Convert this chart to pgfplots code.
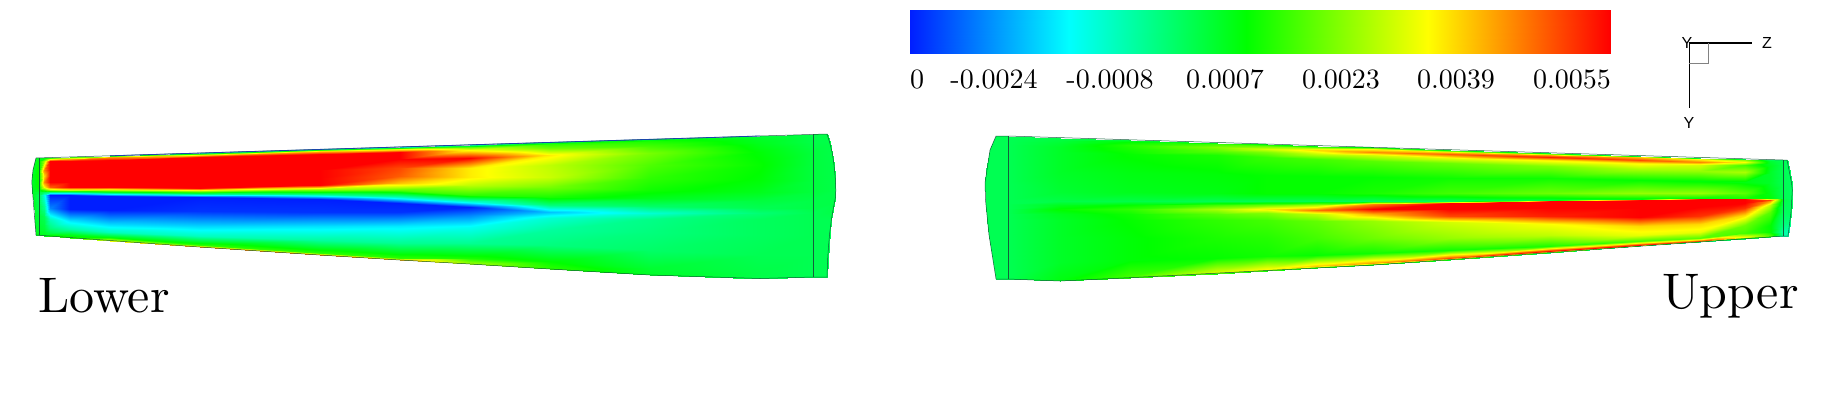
\documentclass[border=0pt]{standalone}
\usepackage{fontspec}
\usepackage{pgfplots}
\pgfplotsset{compat=1.18}
\newfontfamily\triadfont{Liberation Sans}
\newfontfamily\labelfont{lmroman10-regular.otf}
\definecolor{edgeline}{RGB}{20,95,60}
\definecolor{edgeblue}{RGB}{25,70,170}
\definecolor{triadgrey}{RGB}{130,130,130}
\pgfplotsset{
  colormap={cfdrainbow}{rgb255(0pt)=(0,30,255) rgb255(23pt)=(0,255,255) rgb255(48pt)=(0,255,0) rgb255(74pt)=(255,255,0) rgb255(100pt)=(255,0,0)},
}
\begin{document}
\begin{tikzpicture}
\useasboundingbox (0,0) rectangle (911.5pt,209pt);
\begin{axis}[
  at={(0,0)}, anchor=south west,
  scale only axis, width=911.5pt, height=209pt,
  xmin=0, xmax=1823, ymin=0, ymax=418, y dir=reverse,
  hide axis, clip=false,
  colormap name=cfdrainbow,
  point meta min=-0.004, point meta max=0.0055,
]
% colour bar
\addplot[surf, shader=interp, mesh/rows=5, mesh/cols=2, point meta=\thisrow{v}] table {
x y v
910 10.5 -0.0040
910 53.5 -0.0040
1070 10.5 -0.0018
1070 53.5 -0.0018
1247 10.5 0.00057
1247 53.5 0.00057
1427 10.5 0.00302
1427 53.5 0.00302
1610 10.5 0.0055
1610 53.5 0.0055
};
% lower surface
\addplot[surf, shader=interp, mesh/rows=15, mesh/cols=15, point meta=\thisrow{v}] table {
x y v
36 158 0.0003
35.5 159.5 0.0003
35 161 0.0003
33 170 0.0002
32 176 0.0002
31.8 182 0.0002
32 187 0.0002
32.2 190 0.0002
32.4 192 0.0002
32.6 195 0.0002
33.6 205 0.0002
34.6 215 0.0002
35.3 225 0.0002
35.7 231 0.0003
36 235 0.0004
39 158 0.0003
39 159.5 0.0004
39 161 0.0005
39 170 0.0007
39 176 0.0007
39 182 0.0007
39 187 0.0006
39 190 0.0003
39 192 0.0000
39 195 -0.0003
39 205 -0.0002
39 215 0.0000
39 225 0.0001
39 231 0.0002
39 235.3 0.0004
44 157.8 0.0004
44 159 0.0008
44 161 0.0020
44 170 0.0042
44 176 0.0034
44 182 0.0042
44 187 0.0030
44 190 0.0010
44 192 -0.0003
44 195 -0.0015
44 207 -0.0008
44 217 -0.0002
44 227 0.0000
44 232 0.0002
44 235.7 0.0004
50 157.6 0.0010
50 159 0.0030
50 160.5 0.0055
50 170 0.0055
50 176 0.0055
50 182 0.0055
50 187 0.0046
50 190 0.0020
50 192 -0.0006
50 195 -0.0040
50 208 -0.0030
50 219 -0.0012
50 228 -0.0006
50 233 0.0000
50 236 0.0008
70 157 0.0012
70 158.5 0.0040
70 161 0.0055
70 170 0.0055
70 176 0.0055
70 182 0.0055
70 187 0.0055
70 189.5 0.0025
70 192 -0.0006
70 195 -0.0040
70 209 -0.0040
70 221 -0.0020
70 229 -0.0010
70 234 0.0002
70 237.5 0.0010
110 155.8 0.0008
110 157.3 0.0040
110 160 0.0055
110 169 0.0055
110 176 0.0055
110 182 0.0055
110 187 0.0055
110 190 0.0022
110 193 -0.0008
110 196 -0.0040
110 210 -0.0040
110 224 -0.0022
110 232 -0.0012
110 237 0.0004
110 240.5 0.0030
200 153 -0.0010
200 154.7 0.0034
200 157 0.0055
200 166 0.0055
200 174 0.0055
200 182 0.0055
200 188 0.0055
200 191 0.0020
200 193.5 -0.0008
200 197 -0.0040
200 211 -0.0038
200 226 -0.0022
200 236 -0.0012
200 245 0.0010
200 247 0.0044
320 149.4 -0.0015
320 151 0.0034
320 154 0.0055
320 162 0.0055
320 170 0.0055
320 178 0.0055
320 185 0.0055
320 189 0.0022
320 194 -0.0006
320 199 -0.0040
320 212 -0.0038
320 226 -0.0021
320 240 -0.0009
320 252.5 0.0010
320 255 0.0046
400 147 -0.0015
400 148.7 0.0028
400 151.5 0.0055
400 159 0.0055
400 168 0.0048
400 176 0.0046
400 183 0.0036
400 190 0.0014
400 197 -0.0012
400 203 -0.0040
400 212 -0.0038
400 226 -0.0020
400 243 -0.0008
400 257.5 0.0010
400 260 0.0040
470 144.8 -0.0010
470 146.5 0.0014
470 150 0.0030
470 158 0.0055
470 168 0.0032
470 177 0.0032
470 185 0.0024
470 195 0.0010
470 202 -0.0016
470 207 -0.0040
470 215 -0.0030
470 227 -0.0017
470 243 -0.0008
470 258 0.0008
470 264 0.0022
550 142.4 -0.0006
550 144 0.0010
550 148 0.0016
550 155 0.0032
550 165 0.0024
550 177 0.0025
550 187 0.0017
550 197 0.0008
550 205 -0.0006
550 212 -0.0024
550 218 -0.0014
550 230 -0.0009
550 245 -0.0006
550 262 0.0006
550 269 0.0010
650 139.4 -0.0001
650 141 0.0008
650 146 0.0012
650 153 0.0017
650 165 0.0013
650 178 0.0010
650 190 0.0007
650 198 0.0003
650 206 -0.0004
650 213 -0.0014
650 219 -0.0007
650 232 -0.0006
650 250 -0.0004
650 268 0.0001
650 275 0.0002
760 136 0.0000
760 137.5 0.0002
760 143 0.0003
760 152 0.0005
760 165 0.0006
760 180 0.0005
760 192 0.0003
760 200 0.0000
760 208 -0.0002
760 213 -0.0005
760 219 -0.0003
760 235 -0.0003
760 255 -0.0002
760 272 -0.0001
760 278.5 -0.0001
813 134.4 -0.0001
813 136 -0.0001
813 142 -0.0001
813 152 0.0000
813 165 0.0000
813 180 0.0000
813 192 0.0000
813 200 -0.0001
813 208 -0.0001
813 213 -0.0002
813 219 -0.0002
813 235 -0.0002
813 255 -0.0002
813 272 -0.0002
813 277 -0.0002
827 134 -0.0001
827.8 136 -0.0001
829.5 142 -0.0001
832.3 153 -0.0001
834 165 -0.0001
835.2 177 -0.0001
835.8 190 -0.0001
835.5 197 -0.0001
834.3 203 -0.0001
833 210 -0.0001
831.3 220 -0.0002
829.8 232 -0.0002
828.6 245 -0.0002
827.6 260 -0.0002
827 277 -0.0002
};
% upper surface
\addplot[surf, shader=interp, mesh/rows=16, mesh/cols=16, point meta=\thisrow{v}] table {
x y v
996 136 -0.0002
995 138 -0.0002
993.5 141 -0.0002
992 144 -0.0002
990 150 -0.0002
986 170 -0.0002
985 183 -0.0002
985.5 200 -0.0002
985.7 204 -0.0002
986 209 -0.0002
986.5 214 -0.0002
987 220 -0.0002
989 235 -0.0002
993 260 -0.0002
996 277 -0.0002
996 279 -0.0002
1008 136 -0.0002
1008 138 -0.0002
1008 141 -0.0002
1008 144 -0.0002
1008 150 -0.0002
1008 170 -0.0002
1008 183 -0.0002
1008 200 -0.0002
1008 204 -0.0002
1008 209 -0.0002
1008 214 -0.0002
1008 220 -0.0002
1008 235 -0.0002
1008 260 -0.0002
1008 277 -0.0002
1008 279 -0.0002
1060 137.6 -0.0001
1060 139.5 0.0000
1060 143 0.0001
1060 147 0.0002
1060 152 0.0002
1060 172 0.0002
1060 192 0.0001
1060 201 -0.0001
1060 205 0.0003
1060 209 0.0006
1060 214 0.0003
1060 220 0.0002
1060 237 0.0002
1060 262 0.0002
1060 279 0.0004
1060 281 0.0002
1130 139.8 0.0001
1130 141.7 0.0006
1130 145 0.0009
1130 148 0.0008
1130 154 0.0006
1130 173 0.0004
1130 192 0.0003
1130 201 -0.0001
1130 205 0.0006
1130 209 0.0010
1130 214 0.0007
1130 220 0.0006
1130 238 0.0005
1130 260 0.0005
1130 275.7 0.0012
1130 277.7 0.0008
1217 142.5 0.0003
1217 144.4 0.0012
1217 147 0.0018
1217 150.5 0.0014
1217 155 0.0008
1217 174 0.0005
1217 193 0.0004
1217 201 -0.0002
1217 205 0.0012
1217 209 0.0022
1217 214 0.0014
1217 220 0.0010
1217 238 0.0008
1217 258 0.0006
1217 272 0.0026
1217 274 0.0006
1267 144 0.0004
1267 146 0.0016
1267 149 0.0026
1267 152 0.0018
1267 157 0.0011
1267 175 0.0006
1267 193 0.0006
1267 201 -0.0002
1267 205 0.0016
1267 209 0.0032
1267 213 0.0018
1267 220 0.0012
1267 238 0.0009
1267 256 0.0007
1267 268.5 0.0030
1267 270.5 0.0006
1317 145.6 0.0004
1317 147.6 0.0022
1317 150 0.0034
1317 153.5 0.0024
1317 159 0.0012
1317 176 0.0006
1317 193 0.0006
1317 201 -0.0002
1317 204.5 0.0022
1317 209.5 0.0044
1317 214 0.0024
1317 221 0.0015
1317 238 0.0012
1317 255 0.0006
1317 266 0.0036
1317 268 0.0004
1373 147.3 0.0002
1373 149.3 0.0030
1373 152 0.0042
1373 155 0.0026
1373 161 0.0014
1373 177 0.0006
1373 193 0.0008
1373 201 -0.0003
1373 204 0.0042
1373 209 0.0055
1373 214 0.0038
1373 221 0.0020
1373 238 0.0016
1373 253 0.0007
1373 263 0.0040
1373 265 0.0002
1450 149.7 0.0002
1450 151.5 0.0034
1450 154 0.0046
1450 158 0.0028
1450 163 0.0016
1450 178 0.0007
1450 193 0.0012
1450 200.5 -0.0003
1450 202.5 0.0055
1450 209 0.0055
1450 215.5 0.0048
1450 222 0.0026
1450 238 0.0020
1450 250 0.0007
1450 257.5 0.0048
1450 259.6 0.0000
1550 152.8 0.0000
1550 154.5 0.0040
1550 157 0.0052
1550 160 0.0032
1550 166 0.0018
1550 178 0.0007
1550 193 0.0016
1550 199.5 0.0000
1550 201 0.0055
1550 208 0.0055
1550 216 0.0052
1550 224 0.0030
1550 235 0.0024
1550 246 0.0008
1550 250.5 0.0055
1550 252.5 -0.0006
1640 155.6 -0.0002
1640 157 0.0036
1640 159.5 0.0048
1640 163 0.0032
1640 169 0.0022
1640 180 0.0006
1640 193 0.0020
1640 198.5 0.0004
1640 200 0.0055
1640 208 0.0055
1640 217 0.0055
1640 226 0.0034
1640 235 0.0028
1640 241 0.0012
1640 244.5 0.0055
1640 246.2 -0.0010
1700 157.5 -0.0002
1700 159 0.0030
1700 161.5 0.0042
1700 164.5 0.0026
1700 171 0.0020
1700 181 0.0005
1700 193 0.0020
1700 197.5 0.0006
1700 199 0.0055
1700 207 0.0055
1700 216 0.0050
1700 224 0.0034
1700 232 0.0028
1700 238 0.0014
1700 240.5 0.0050
1700 242 -0.0010
1745 158.8 -0.0002
1745 160 0.0020
1745 162 0.0030
1745 165 0.0012
1745 172 0.0022
1745 182 0.0004
1745 193 0.0014
1745 197.5 0.0008
1745 199 0.0055
1745 203 0.0055
1745 208 0.0050
1745 215 0.0034
1745 225 0.0016
1745 233 0.0012
1745 237 0.0030
1745 238.8 -0.0004
1770 159.6 -0.0002
1770 161 0.0001
1770 163 0.0002
1770 166 0.0003
1770 173 0.0002
1770 183 0.0002
1770 193 0.0004
1770 197.5 0.0005
1770 199.5 0.0048
1770 201 0.0040
1770 205 0.0024
1770 212 0.0014
1770 225 0.0006
1770 232 0.0006
1770 235.5 0.0014
1770 237 -0.0002
1783 160 -0.0003
1783 161.5 -0.0002
1783 163.5 -0.0002
1783 166.5 -0.0002
1783 173 -0.0002
1783 183 -0.0002
1783 193 -0.0002
1783 197.5 -0.0002
1783 199.5 -0.0001
1783 201 -0.0001
1783 205 -0.0002
1783 212 -0.0003
1783 225 -0.0006
1783 232 -0.0010
1783 234.5 -0.0010
1783 236 -0.0010
1787 160 -0.0003
1787.5 161.5 -0.0003
1788 163.5 -0.0003
1789 166.5 -0.0003
1790 173 -0.0003
1791.5 183 -0.0003
1792.3 190 -0.0003
1792 197.5 -0.0003
1792 199.5 -0.0003
1791.8 201 -0.0003
1791.5 205 -0.0003
1791 212 -0.0003
1790 222 -0.0006
1789 230 -0.0010
1788.3 234.5 -0.0010
1788 236 -0.0010
};
% outlines
\addplot[edgeline, line width=0.25pt] coordinates {(36,158) (813,134.4) (827,134) (829.5,142) (832.3,153) (834,165) (835.2,177) (835.8,190) (835.5,197) (834.3,203) (833,210) (831.3,220) (829.8,232) (828.6,245) (827.6,260) (827,277) (813,277) (760,278.5) (650,275) (550,269) (470,264) (400,260) (320,255) (200,247) (110,240.5) (36,235) (33.6,205) (31.8,182) (33,170) (36,158)};
\addplot[edgeline, line width=0.25pt] coordinates {(39,158) (39,235.3)};
\addplot[edgeline, line width=0.25pt] coordinates {(813,134.4) (813,277)};
\addplot[edgeblue, line width=0.4pt] coordinates {(110,155.8) (320,149.4) (550,142.4) (760,136)};
\addplot[edgeline, line width=0.25pt] coordinates {(996,136) (1008,136) (1783,160) (1787,160) (1791.5,183) (1792.3,190) (1791,212) (1788,236) (1783,236) (1640,246.2) (1373,265) (1130,277.7) (1060,281) (1008,279) (996,279) (989,235) (985.5,200) (985,183) (990,150) (996,136)};
\addplot[edgeline, line width=0.25pt] coordinates {(1008,136) (1008,279)};
\addplot[edgeline, line width=0.25pt] coordinates {(1783,160) (1783,236)};
% triad
\addplot[black, line width=0.8pt] coordinates {(1689,43) (1752,43)};
\addplot[black, line width=0.4pt] coordinates {(1689,43) (1689,108)};
\addplot[triadgrey, line width=0.4pt] coordinates {(1708,43) (1708,63) (1689,63)};
\node[font=\triadfont\fontsize{8}{9}\selectfont, inner sep=0pt] at (axis cs:1687,43) {Y};
\node[font=\triadfont\fontsize{8}{9}\selectfont, inner sep=0pt] at (axis cs:1767,43) {Z};
\node[font=\triadfont\fontsize{8}{9}\selectfont, inner sep=0pt] at (axis cs:1689,123) {Y};
% colour bar labels
\node[font=\labelfont\fontsize{14}{16}\selectfont, anchor=base, inner sep=0pt] at (axis cs:917,88) {0};
\node[font=\labelfont\fontsize{14}{16}\selectfont, anchor=base, inner sep=0pt] at (axis cs:994,88) {-0.0024};
\node[font=\labelfont\fontsize{14}{16}\selectfont, anchor=base, inner sep=0pt] at (axis cs:1110,88) {-0.0008};
\node[font=\labelfont\fontsize{14}{16}\selectfont, anchor=base, inner sep=0pt] at (axis cs:1225,88) {0.0007};
\node[font=\labelfont\fontsize{14}{16}\selectfont, anchor=base, inner sep=0pt] at (axis cs:1341,88) {0.0023};
\node[font=\labelfont\fontsize{14}{16}\selectfont, anchor=base, inner sep=0pt] at (axis cs:1456,88) {0.0039};
\node[font=\labelfont\fontsize{14}{16}\selectfont, anchor=base, inner sep=0pt] at (axis cs:1572,88) {0.0055};
\node[font=\labelfont\fontsize{25}{30}\selectfont, anchor=base west, inner sep=0pt] at (axis cs:38,312) {Lower};
\node[font=\labelfont\fontsize{25}{30}\selectfont, anchor=base east, inner sep=0pt] at (axis cs:1799,308) {Upper};
\end{axis}
\end{tikzpicture}
\end{document}
